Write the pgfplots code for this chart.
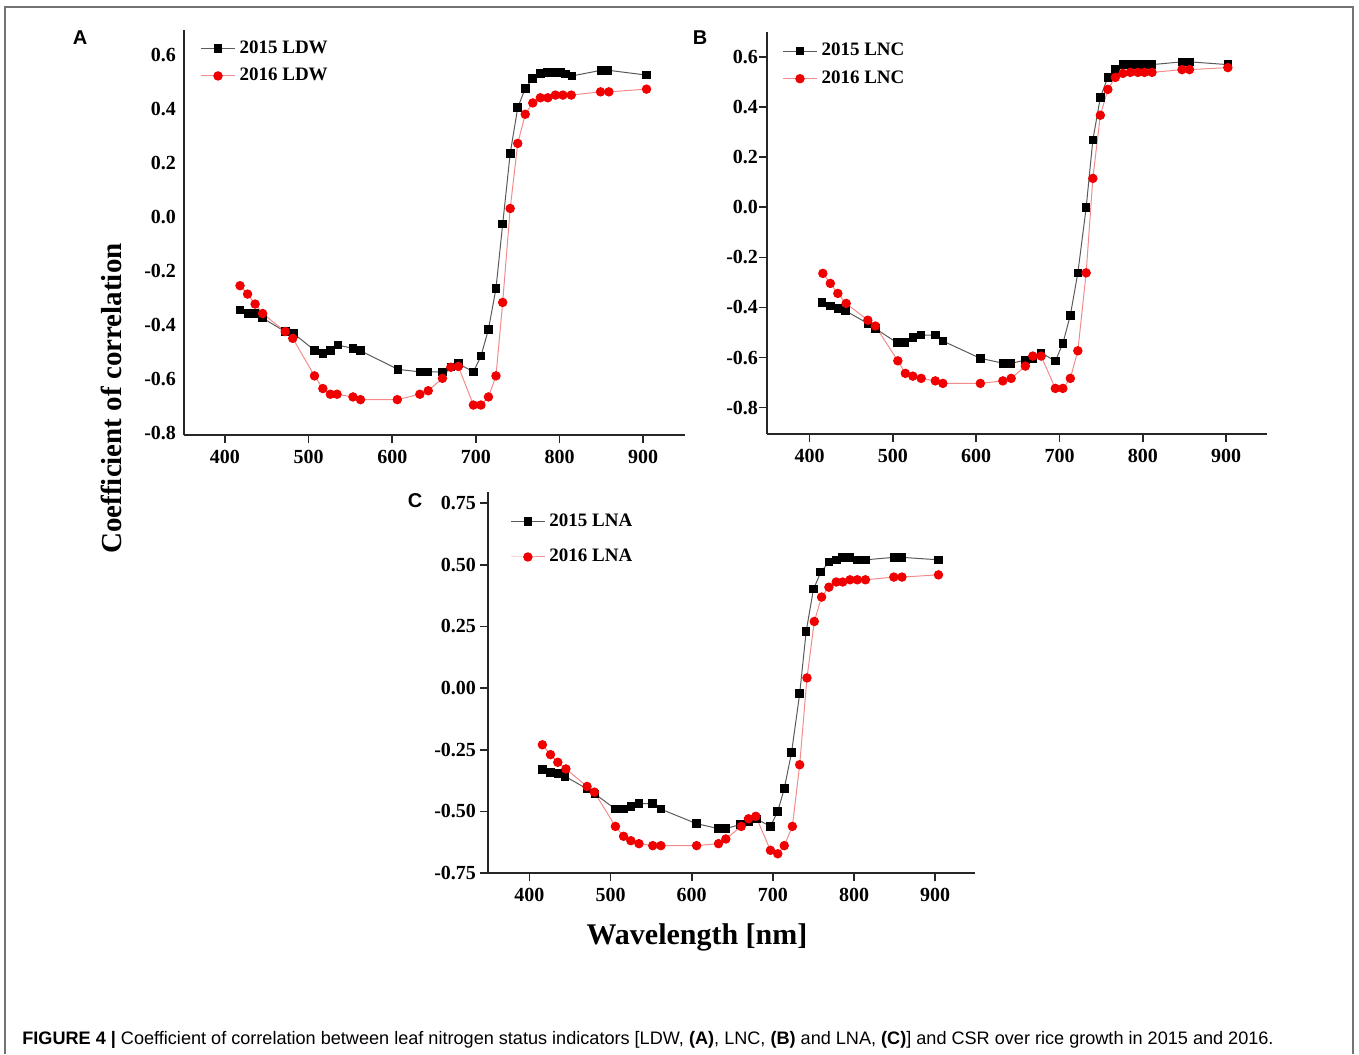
\documentclass[border=0pt]{standalone}
\usepackage{fontspec}
\setmainfont{Liberation Serif}
\newfontfamily\sans{Liberation Sans}
\usepackage{pgfplots}
\pgfplotsset{compat=1.18}
\usepackage{xcolor}
\definecolor{lineA}{HTML}{5A5A5A}
\definecolor{lineB}{HTML}{F28C8C}
\definecolor{markB}{HTML}{F00000}

\pgfplotsset{
  panel/.style={
    scale only axis, anchor=south west,
    axis x line*=bottom, axis y line*=left,
    axis line style={-, line width=0.9pt, black!85},
    xmin=350, xmax=950, xtick={400,500,600,700,800,900},
    tick align=outside, major tick length=4pt,
    tick style={line width=0.8pt, black!85},
    /pgf/number format/assume math mode=true,
    tick label style={font=\bfseries\fontsize{10}{12}\selectfont},
    legend style={draw=none, fill=none, inner sep=0pt,
      font=\bfseries\fontsize{9.5}{11}\selectfont},
    legend cell align=left,
  },
  y2015/.style={lineA, line width=0.5pt, mark=square*, mark size=1.9pt,
    mark options={black, fill=black}},
  y2016/.style={lineB, line width=0.5pt, mark=*, mark size=2.1pt,
    mark options={markB, fill=markB}},
}

\begin{document}
\begin{tikzpicture}
\path (0pt,0pt) rectangle (679.5pt,-527pt);
\draw[black!55, line width=0.9pt] (2.5pt,-527pt) -- (2.5pt,-3.5pt) -- (676.5pt,-3.5pt) -- (676.5pt,-527pt);

% A: LDW
\begin{axis}[panel, at={(92pt,-217.5pt)}, width=250.5pt, height=202.5pt,
  xmin=351, xmax=950, ymin=-0.807, ymax=0.693,
  ytick={-0.8,-0.6,...,0.61}, ytick style={draw=none}, yticklabel shift=-3.5pt,
  yticklabel style={/pgf/number format/.cd, fixed, fixed zerofill, precision=1},
  legend style={at={(0.032,0.985)}, anchor=north west, row sep=2pt}]
\addplot[y2015] coordinates {(418,-0.344)(428,-0.357)(436,-0.357)(445,-0.374)(472,-0.424)(482,-0.431)
 (507,-0.493)(517,-0.505)(526,-0.493)(535,-0.474)(553,-0.486)(562,-0.495)(607,-0.564)(633,-0.573)
 (642,-0.573)(660,-0.573)(670,-0.555)(679,-0.543)(697,-0.573)(706,-0.515)(715,-0.416)(724,-0.264)
 (732,-0.026)(741,0.236)(750,0.405)(759,0.477)(768,0.514)(777,0.532)(785,0.535)(793,0.535)(801,0.535)
 (807,0.530)(815,0.523)(850,0.544)(858,0.544)(904,0.526)};
\addplot[y2016] coordinates {(418,-0.254)(427,-0.285)(436,-0.322)(445,-0.357)(472,-0.424)(481,-0.449)
 (507,-0.588)(517,-0.635)(526,-0.656)(534,-0.656)(553,-0.666)(562,-0.676)(606,-0.676)(633,-0.656)
 (643,-0.643)(660,-0.597)(670,-0.556)(679,-0.553)(697,-0.696)(706,-0.696)(715,-0.666)(724,-0.588)
 (732,-0.316)(741,0.032)(750,0.273)(759,0.381)(768,0.423)(777,0.442)(786,0.442)(795,0.452)(804,0.452)
 (814,0.452)(849,0.464)(859,0.464)(904,0.474)};
\legend{2015 LDW,2016 LDW}
\end{axis}

% B: LNC
\begin{axis}[panel, at={(383.5pt,-217pt)}, width=250pt, height=201pt,
  xmin=349, xmax=949, ymin=-0.905, ymax=0.699,
  ytick={-0.8,-0.6,...,0.61}, yticklabel shift=-3pt,
  yticklabel style={/pgf/number format/.cd, fixed, fixed zerofill, precision=1},
  legend style={at={(0.03,0.983)}, anchor=north west, row sep=2pt}]
\addplot[y2015] coordinates {(415,-0.381)(425,-0.395)(434,-0.404)(443,-0.413)(470,-0.464)(479,-0.484)
 (505,-0.541)(514,-0.541)(524,-0.521)(534,-0.510)(551,-0.510)(560,-0.534)(605,-0.603)(633,-0.623)
 (642,-0.623)(659,-0.610)(668,-0.603)(678,-0.581)(695,-0.614)(704,-0.544)(713,-0.431)(722,-0.262)
 (732,-0.002)(740,0.268)(749,0.438)(758,0.518)(767,0.549)(776,0.569)(785,0.569)(794,0.569)(802,0.569)
 (811,0.569)(847,0.580)(856,0.580)(902,0.569)};
\addplot[y2016] coordinates {(416,-0.264)(425,-0.304)(434,-0.344)(444,-0.384)(470,-0.451)(479,-0.474)
 (506,-0.613)(515,-0.663)(524,-0.674)(534,-0.683)(551,-0.693)(560,-0.703)(605,-0.703)(632,-0.693)
 (642,-0.683)(659,-0.634)(668,-0.594)(678,-0.594)(695,-0.723)(704,-0.723)(713,-0.683)(722,-0.573)
 (732,-0.262)(740,0.115)(749,0.367)(758,0.470)(767,0.518)(776,0.534)(785,0.538)(794,0.538)(802,0.538)
 (811,0.538)(847,0.549)(856,0.549)(902,0.557)};
\legend{2015 LNC,2016 LNC}
\end{axis}

% C: LNA
\begin{axis}[panel, at={(244pt,-436.5pt)}, width=243.5pt, height=190.5pt,
  xmin=349, xmax=949, ymin=-0.75, ymax=0.795,
  ytick={-0.75,-0.5,...,0.76}, yticklabel shift=-1.5pt,
  yticklabel style={/pgf/number format/.cd, fixed, fixed zerofill, precision=2},
  legend style={at={(0.045,0.955)}, anchor=north west, row sep=6pt}]
\addplot[y2015] coordinates {(416,-0.331)(426,-0.342)(435,-0.347)(444,-0.358)(471,-0.409)(481,-0.430)
 (506,-0.491)(516,-0.491)(525,-0.480)(535,-0.469)(552,-0.469)(562,-0.491)(606,-0.550)(633,-0.570)
 (642,-0.570)(660,-0.553)(670,-0.541)(680,-0.531)(697,-0.561)(706,-0.500)(714,-0.408)(723,-0.261)
 (733,-0.023)(741,0.230)(750,0.401)(759,0.470)(769,0.511)(778,0.520)(786,0.530)(795,0.530)(804,0.520)
 (814,0.520)(849,0.530)(859,0.530)(904,0.520)};
\addplot[y2016] coordinates {(416,-0.230)(426,-0.270)(435,-0.301)(445,-0.328)(471,-0.399)(480,-0.422)
 (506,-0.561)(516,-0.601)(525,-0.619)(535,-0.631)(552,-0.639)(562,-0.639)(606,-0.639)(633,-0.631)
 (642,-0.612)(661,-0.561)(670,-0.530)(679,-0.520)(697,-0.658)(706,-0.672)(714,-0.639)(724,-0.561)
 (733,-0.311)(742,0.041)(751,0.270)(760,0.369)(769,0.409)(778,0.430)(786,0.430)(795,0.439)(804,0.439)
 (814,0.439)(849,0.450)(859,0.450)(904,0.459)};
\legend{2015 LNA,2016 LNA}
\end{axis}

% panel letters and shared labels
\node[font=\sans\bfseries\fontsize{10}{12}\selectfont] at (40pt,-19pt) {A};
\node[font=\sans\bfseries\fontsize{10}{12}\selectfont] at (350pt,-19pt) {B};
\node[font=\sans\bfseries\fontsize{10}{12}\selectfont] at (207.5pt,-250.5pt) {C};
\node[rotate=90, font=\bfseries\fontsize{14.5}{16}\selectfont] at (55.5pt,-199.25pt) {Coefficient of correlation};
\node[font=\bfseries\fontsize{15}{17}\selectfont] at (348.5pt,-468.5pt) {Wavelength [nm]};
\node[anchor=base west, inner sep=0pt, font=\sans\fontsize{9.05}{10}\selectfont] at (11pt,-522pt)
  {\textbf{FIGURE 4 |} Coefficient of correlation between leaf nitrogen status indicators [LDW, \textbf{(A)}, LNC, \textbf{(B)} and LNA, \textbf{(C)}] and CSR over rice growth in 2015 and 2016.};
\end{tikzpicture}
\end{document}
